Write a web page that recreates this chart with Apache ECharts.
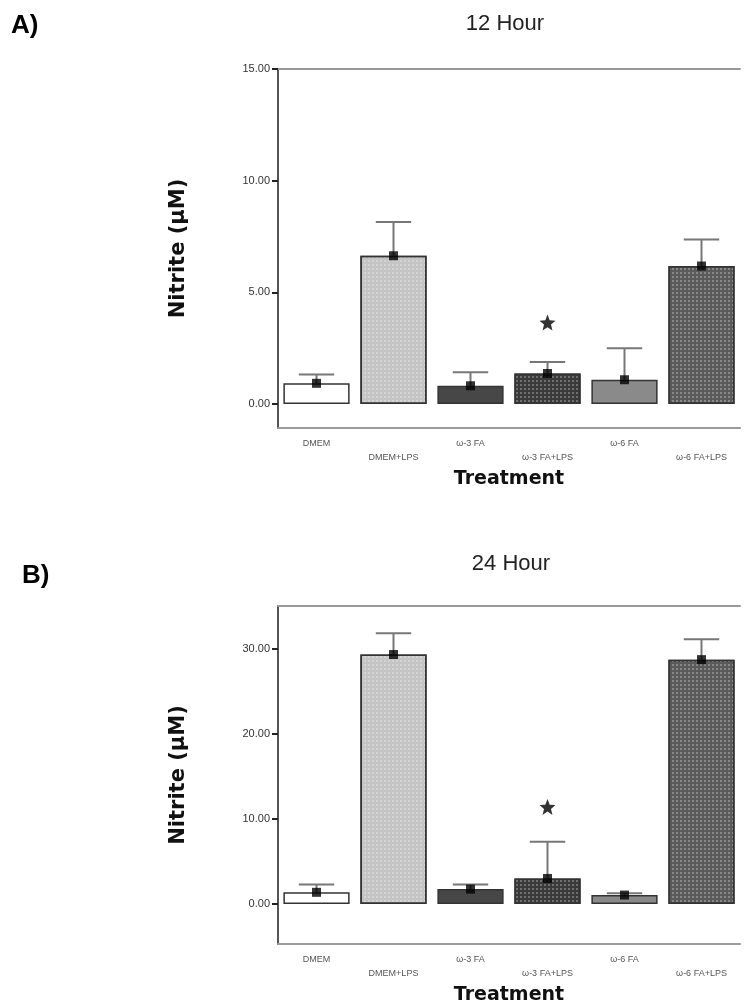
<!DOCTYPE html>
<html>
<head>
<meta charset="utf-8">
<script src="https://cdn.jsdelivr.net/npm/echarts@6/dist/echarts.min.js"></script>
<style>
html,body{margin:0;padding:0;background:#fff;}
#c{width:750px;height:1006px;}
</style>
</head>
<body>
<div id="c"></div>
<script>
const categories = ['DMEM', 'DMEM+LPS', 'ω-3 FA', 'ω-3 FA+LPS', 'ω-6 FA', 'ω-6 FA+LPS'];
const mean12 = [0.93, 6.64, 0.82, 1.37, 1.09, 6.18];
const upper12 = [1.33, 8.15, 1.43, 1.88, 2.50, 7.37];
const star12 = [null, null, null, 3.65, null, null];
const mean24 = [1.37, 29.3, 1.75, 3.0, 1.05, 28.7];
const upper24 = [2.3, 31.8, 2.3, 7.3, 1.25, 31.1];
const star24 = [null, null, null, 11.4, null, null];
const ticks12 = [0, 5, 10, 15];
const ticks24 = [0, 10, 20, 30];

const fills = ['#ffffff', '#c4c4c4', '#474747', '#3a3a3a', '#8a8a8a', '#5a5a5a'];
const patterned = [false, true, false, true, false, true];

const chart = echarts.init(document.getElementById('c'));
const font = 'Liberation Sans, Arial, sans-serif';
const boldFont = 'DejaVu Sans, Verdana, sans-serif';
const starPath = 'path://M12 1 L15 8.8 L23 9.2 L16.8 14.4 L18.8 22.5 L12 18 L5.2 22.5 L7.2 14.4 L1 9.2 L9 8.8 Z';

function barData(vals) {
  return vals.map((v, i) => ({
    value: v,
    itemStyle: {
      color: fills[i],
      borderColor: '#333',
      borderWidth: 1.5,
      decal: patterned[i] ? {
        symbol: 'rect', symbolSize: 1, dashArrayX: [2, 2], dashArrayY: [2, 2],
        color: 'rgba(255,255,255,0.28)'
      } : null
    }
  }));
}

function errorRender(params, api) {
  const x = api.value(0);
  const p0 = api.coord([x, api.value(1)]);
  const p1 = api.coord([x, api.value(2)]);
  const half = api.size([1, 0])[0] * 0.23;
  const st = { stroke: '#777', lineWidth: 2 };
  return {
    type: 'group',
    children: [
      { type: 'line', shape: { x1: p0[0], y1: p0[1], x2: p1[0], y2: p1[1] }, style: st },
      { type: 'line', shape: { x1: p1[0] - half, y1: p1[1], x2: p1[0] + half, y2: p1[1] }, style: st }
    ]
  };
}

function xAxes(gi) {
  return [{
    type: 'category', gridIndex: gi, data: categories, position: 'bottom',
    axisLine: { onZero: false, lineStyle: { color: '#999', width: 2 } },
    axisTick: { alignWithLabel: true, length: 4, lineStyle: { color: '#333', width: 2 } },
    axisLabel: {
      interval: 0, margin: 9, fontSize: 9, color: '#555', fontFamily: font, lineHeight: 14,
      formatter: (v, i) => (i % 2 === 1 ? '\n' + v : v)
    },
    name: 'Treatment', nameLocation: 'middle', nameGap: 42,
    nameTextStyle: { fontSize: 19, fontWeight: 'bold', color: '#111', fontFamily: boldFont }
  }, {
    type: 'category', gridIndex: gi, data: categories, position: 'top',
    axisLine: { onZero: false, lineStyle: { color: '#999', width: 2 } },
    axisTick: { show: false }, axisLabel: { show: false }
  }];
}

function yAxis(gi, min, max, ticks) {
  return {
    type: 'value', gridIndex: gi, min: min, max: max,
    axisLine: { show: true, lineStyle: { color: '#555', width: 2 } },
    axisTick: { show: true, customValues: ticks, length: 6, lineStyle: { color: '#222', width: 2 } },
    axisLabel: { customValues: ticks, formatter: v => v.toFixed(2), fontSize: 11, color: '#333', fontFamily: font, margin: 8 },
    splitLine: { show: false },
    name: 'Nitrite (µM)', nameLocation: 'middle', nameGap: 89, nameRotate: 90,
    nameTextStyle: { fontSize: 21, fontWeight: 'bold', color: '#111', fontFamily: boldFont }
  };
}

function seriesFor(gi, mean, upper, star) {
  const xi = gi * 2, yi = gi;
  return [
    { type: 'bar', xAxisIndex: xi, yAxisIndex: yi, data: barData(mean), barWidth: '86%', silent: true },
    {
      type: 'custom', xAxisIndex: xi, yAxisIndex: yi, renderItem: errorRender, z: 3,
      data: mean.map((m, i) => [i, m, upper[i]]), encode: { x: 0, y: [1, 2] }
    },
    {
      type: 'scatter', xAxisIndex: xi, yAxisIndex: yi, symbol: 'rect', symbolSize: 9, z: 4,
      itemStyle: { color: '#000' }, data: mean.map((m, i) => [i, m])
    },
    {
      type: 'scatter', xAxisIndex: xi, yAxisIndex: yi, symbol: starPath, symbolSize: 16, z: 4,
      itemStyle: { color: '#000' }, data: star.map((s, i) => (s === null ? null : [i, s])).filter(d => d)
    }
  ];
}

chart.setOption({
  animation: false,
  title: [
    { text: '12 Hour', left: 500, top: 8, textAlign: 'center', textStyle: { fontSize: 22, fontWeight: 'normal', color: '#222', fontFamily: font } },
    { text: '24 Hour', left: 506, top: 548, textAlign: 'center', textStyle: { fontSize: 22, fontWeight: 'normal', color: '#222', fontFamily: font } },
    { text: 'A)', left: 6, top: 8, textStyle: { fontSize: 26, fontWeight: 'bold', color: '#000', fontFamily: font } },
    { text: 'B)', left: 17, top: 558, textStyle: { fontSize: 26, fontWeight: 'bold', color: '#000', fontFamily: font } }
  ],
  grid: [
    { left: 278, top: 69, width: 462, height: 359 },
    { left: 278, top: 606, width: 462, height: 340 }
  ],
  xAxis: [...xAxes(0), ...xAxes(1)],
  yAxis: [yAxis(0, -1.07, 15, ticks12), yAxis(1, -4.7, 35, ticks24)],
  series: [...seriesFor(0, mean12, upper12, star12), ...seriesFor(1, mean24, upper24, star24)]
});
</script>
</body>
</html>
